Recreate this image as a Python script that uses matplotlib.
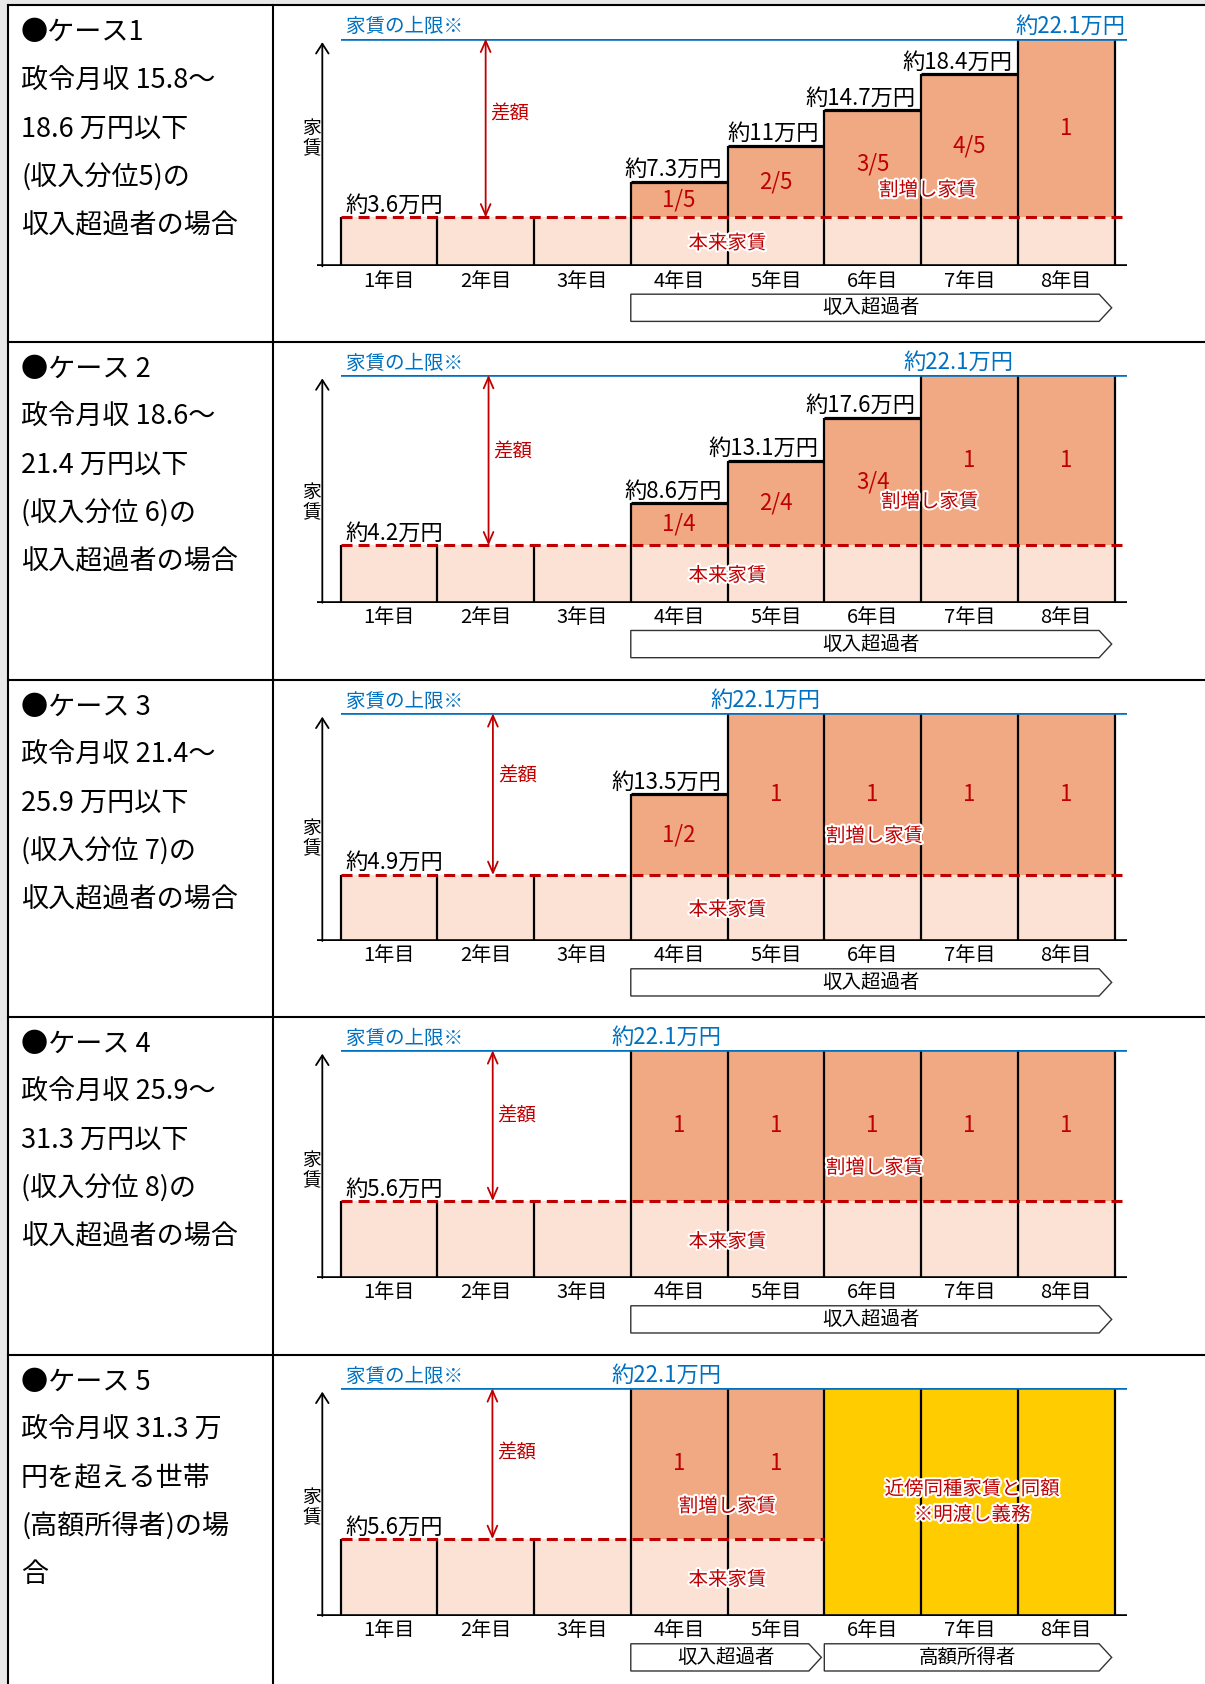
import numpy as np
import matplotlib
matplotlib.use('Agg')
import matplotlib.pyplot as plt
from matplotlib.patches import Polygon, Rectangle
import matplotlib.patheffects as pe

plt.rcParams['font.family'] = ['Noto Sans CJK JP', 'DejaVu Sans']

# ---- data ----
years = ['1年目', '2年目', '3年目', '4年目', '5年目', '6年目', '7年目', '8年目']
cap = 22.1  # 家賃の上限 (万円)
case_text = [
    ['●ケース1', '政令月収 15.8～', '18.6 万円以下', '(収入分位5)の', '収入超過者の場合'],
    ['●ケース 2', '政令月収 18.6～', '21.4 万円以下', '(収入分位 6)の', '収入超過者の場合'],
    ['●ケース 3', '政令月収 21.4～', '25.9 万円以下', '(収入分位 7)の', '収入超過者の場合'],
    ['●ケース 4', '政令月収 25.9～', '31.3 万円以下', '(収入分位 8)の', '収入超過者の場合'],
    ['●ケース 5', '政令月収 31.3 万', '円を超える世帯', '(高額所得者)の場', '合'],
]
base_rent = [3.6, 4.2, 4.9, 5.6, 5.6]
rents = [
    [3.6, 3.6, 3.6, 7.3, 11.0, 14.7, 18.4, 22.1],
    [4.2, 4.2, 4.2, 8.6, 13.1, 17.6, 22.1, 22.1],
    [4.9, 4.9, 4.9, 13.5, 22.1, 22.1, 22.1, 22.1],
    [5.6, 5.6, 5.6, 22.1, 22.1, 22.1, 22.1, 22.1],
    [5.6, 5.6, 5.6, 22.1, 22.1, 22.1, 22.1, 22.1],
]
shares = [
    ['1/5', '2/5', '3/5', '4/5', '1'],
    ['1/4', '2/4', '3/4', '1', '1'],
    ['1/2', '1', '1', '1', '1'],
    ['1', '1', '1', '1', '1'],
    ['1', '1'],
]
market_from = [None, None, None, None, 5]  # 近傍同種家賃 from this year index
bands = [
    [('収入超過者', 3, 8)],
    [('収入超過者', 3, 8)],
    [('収入超過者', 3, 8)],
    [('収入超過者', 3, 8)],
    [('収入超過者', 3, 5), ('高額所得者', 5, 8)],
]

# ---- style / layout ----
W, H = 1205, 1684
peach = '#FBE2D5'
salmon = '#F0A982'
yellow = '#FFCC00'
blue = '#0070C0'
red = '#C00000'
glow = [pe.withStroke(linewidth=3, foreground='white')]

cell_top = [5.4, 341.7, 680, 1017, 1355]
base_disp = [0.215, 0.252, 0.29, 0.338, 0.338]   # schematic height of base rent
cap_right = [8.11, 6.95, 4.96, 3.94, 3.94]
sagaku_x = [1.50, 1.53, 1.575, 1.573, 1.57]
sagaku_f = [0.58, 0.55, 0.61, 0.565, 0.57]
wari_pos = [(6.07, 0.152), (6.09, 0.255), (5.52, 0.24), (5.52, 0.22), (4.0, 0.216)]
yachin_y = [0.56, 0.44, 0.45, 0.47, 0.476]
xmin, xmax = -0.245, 8.13
unit_px = 96.76

fig = plt.figure(figsize=(W / 100, H / 100), dpi=100, facecolor='#E8E8E8')

bg = fig.add_axes([0, 0, 1, 1])
bg.set_xlim(0, W)
bg.set_ylim(H, 0)
bg.axis('off')
bg.add_patch(Rectangle((8, 5.4), W, H, facecolor='white', edgecolor='none'))
lk = dict(color='black', lw=1.5)
bg.plot([8, W], [5.4, 5.4], **lk)
bg.plot([8, 8], [5.4, H], **lk)
bg.plot([273, 273], [5.4, H], **lk)
for t in cell_top[1:]:
    bg.plot([8, W], [t, t], **lk)
for r in range(5):
    for k, line in enumerate(case_text[r]):
        bg.text(21, cell_top[r] + 27.5 + k * 48.1, line, fontsize=19.5,
                ha='left', va='center')


def make_scale(base, b):
    def fwd(v):
        v = np.asarray(v, float)
        return np.where(v <= base, v / base * b, b + (v - base) / (cap - base) * (1 - b))

    def inv(d):
        d = np.asarray(d, float)
        return np.where(d <= b, d / b * base, base + (d - b) / (1 - b) * (cap - base))
    return fwd, inv


ax_w = (xmax - xmin) * unit_px
for r in range(5):
    top = cell_top[r]
    ax = fig.add_axes([316.8 / W, 1 - (top + 261) / H, ax_w / W, 227.7 / H])
    ax.patch.set_visible(False)
    base = base_rent[r]
    ax.set_yscale('function', functions=make_scale(base, base_disp[r]))
    ax.set_xlim(xmin, xmax)
    ax.set_ylim(0, cap)
    for s in ax.spines.values():
        s.set_visible(False)
    ax.set_xticks(np.arange(8) + 0.5, years)
    ax.set_yticks([])
    ax.tick_params(axis='x', length=0, pad=3, labelsize=14.5)

    x = np.arange(8)
    vals = np.array(rents[r])
    market = np.zeros(8, bool)
    if market_from[r] is not None:
        market[market_from[r]:] = True
    prem = (vals > base) & ~market
    tops = np.where(market, cap, vals)

    ax.bar(x[~market], base, width=1, align='edge', color=peach, lw=0, zorder=1)
    ax.bar(x[prem], vals[prem] - base, bottom=base, width=1, align='edge',
           color=salmon, lw=0, zorder=1)
    if market.any():
        ax.bar(x[market], cap, width=1, align='edge', color=yellow, lw=0, zorder=1)

    # bar outlines
    for e in range(9):
        hl = tops[e - 1] if e > 0 else 0
        hr = tops[e] if e < 8 else 0
        ax.vlines(e, 0, max(hl, hr), color='black', lw=1.6, zorder=3)
    for i in x[prem]:
        if vals[i] < cap:
            ax.hlines(vals[i], i, i + 1, color='black', lw=2.3, zorder=3)
            ax.annotate(f'約{vals[i]:g}万円', xy=(i + 0.94, vals[i]), xytext=(0, 0.5),
                        textcoords='offset points', ha='right', va='bottom', fontsize=16)
    for k, i in enumerate(x[prem]):
        ax.text(i + 0.5, (base + vals[i]) / 2, shares[r][k], color=red, fontsize=16,
                ha='center', va='center', zorder=6)

    # reference lines
    dash_end = market_from[r] if market_from[r] is not None else xmax
    ax.hlines(base, 0, dash_end, colors=red, linestyles=(0, (3.6, 2)), lw=2.2, zorder=4)
    ax.hlines(cap, 0, xmax, colors=blue, lw=2.6, zorder=5)
    ax.axhline(0, color='black', lw=2.6, zorder=5)

    ax.annotate('', xy=(-0.188, 0.985), xytext=(-0.188, 0),
                xycoords=('data', 'axes fraction'), textcoords=('data', 'axes fraction'),
                arrowprops=dict(arrowstyle='->,head_length=0.7,head_width=0.45',
                                lw=1.3, color='black', shrinkA=0, shrinkB=0))
    ax.text(-0.3, yachin_y[r], '家\n賃', transform=ax.get_xaxis_transform(),
            fontsize=13.5, ha='center', va='center', linespacing=0.95)

    # 差額
    ax.annotate('', xy=(sagaku_x[r], cap), xytext=(sagaku_x[r], base),
                arrowprops=dict(arrowstyle='<->,head_length=0.8,head_width=0.35',
                                lw=1.3, color=red, shrinkA=0, shrinkB=0), zorder=6)
    ax.text(sagaku_x[r] + 0.05, base + sagaku_f[r] * (cap - base), '差額', color=red,
            fontsize=14, ha='left', va='center')

    # labels
    ax.annotate(f'約{base:g}万円', xy=(0.055, base), xytext=(0, 0.5),
                textcoords='offset points', ha='left', va='bottom', fontsize=16, zorder=6)
    ax.annotate('家賃の上限※', xy=(0.055, cap), xytext=(0, 1),
                textcoords='offset points', ha='left', va='bottom', fontsize=14, color=blue)
    ax.annotate(f'約{cap:g}万円', xy=(cap_right[r], cap), xytext=(0, 1),
                textcoords='offset points', ha='right', va='bottom', fontsize=16, color=blue)
    wx, wf = wari_pos[r]
    ax.text(wx, base + wf * (cap - base), '割増し家賃', color=red, fontsize=14,
            ha='center', va='center', path_effects=glow, zorder=7)
    ax.text(4.0, 0.47 * base, '本来家賃', color=red, fontsize=14,
            ha='center', va='center', path_effects=glow, zorder=7)
    if market.any():
        mx = (market_from[r] + 8) / 2 + 0.03
        ax.text(mx, 0.557, '近傍同種家賃と同額', transform=ax.get_xaxis_transform(),
                color=red, fontsize=14, ha='center', va='center', path_effects=glow, zorder=7)
        ax.text(mx, 0.444, '※明渡し義務', transform=ax.get_xaxis_transform(),
                color=red, fontsize=14, ha='center', va='center', path_effects=glow, zorder=7)

    # arrow-shaped bands below the axis
    yt, yb = -0.122, -0.2415
    ym = (yt + yb) / 2
    for label, s0, s1 in bands[r]:
        tip = s1 - 0.03
        poly = Polygon([(s0, yt), (tip - 0.13, yt), (tip, ym), (tip - 0.13, yb), (s0, yb)],
                       closed=True, facecolor='white', edgecolor='#333333', lw=1.0,
                       transform=ax.get_xaxis_transform(), clip_on=False)
        ax.add_patch(poly)
        ax.text((s0 + tip) / 2, ym, label, transform=ax.get_xaxis_transform(),
                fontsize=14, ha='center', va='center')

fig.savefig('out.png', dpi=100, facecolor=fig.get_facecolor())
